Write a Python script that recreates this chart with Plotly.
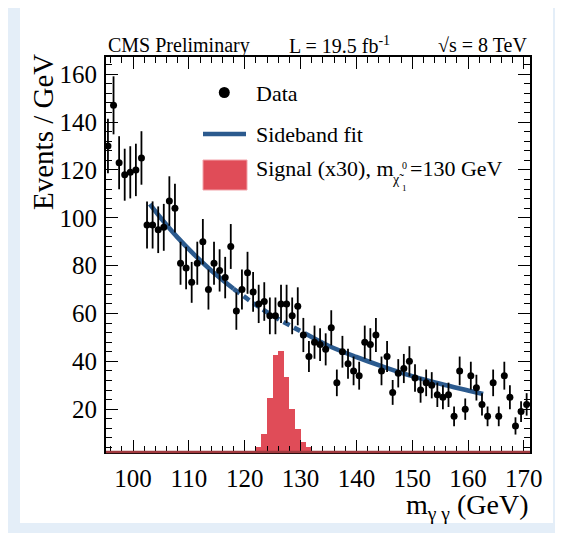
import numpy as np
import plotly.graph_objects as go

# ---------------- data ----------------
# observed events per 1 GeV bin (bin centres 95.5 ... 170.5)
bin_centres = [95.5 + i for i in range(76)]
data_counts = [130, 147, 123, 118, 119, 120, 125, 97, 97, 95,
               96, 107, 104, 81, 79, 73, 81, 90, 70, 81,
               78, 75, 88, 61, 70, 77, 69, 64, 65, 59,
               59, 64, 64, 59, 63, 51, 42, 48, 47, 45,
               54, 31, 44, 39, 36, 34, 48, 47, 51, 36,
               42, 27, 35, 37, 40, 33, 28, 31, 30, 26,
               25, 26, 17, 36, 20, 34, 29, 22, 17, 31,
               17, 34, 25, 13, 19, 22]
data_err = np.sqrt(np.array(data_counts, dtype=float))

# sideband fit curve
fit_x = [103, 105, 108, 111, 114, 118, 122, 126, 131, 135, 140, 145, 150, 155, 160, 162.7]
fit_y = [105.7, 99.8, 91.7, 84.5, 78.0, 70.3, 63.6, 57.7, 51.4, 46.5, 41.8, 37.6, 33.8, 30.6, 27.8, 26.3]

# signal histogram (x30), 1 GeV bins
sig_centres = [122.5, 123.5, 124.5, 125.5, 126.5, 127.5, 128.5, 129.5, 130.5, 131.5]
sig_values = [4.0, 9.6, 24.6, 42.5, 44.3, 33.5, 20.0, 11.7, 6.4, 4.0]

x_ticks = [100, 110, 120, 130, 140, 150, 160, 170]
y_ticks = [20, 40, 60, 80, 100, 120, 140, 160]

# ---------------- style ----------------
W, H = 563, 533
OFF = 8                      # page body margin
L, R, T, B = 106, 530, 57, 452   # plot frame in page pixels
FONT = "Liberation Serif"
BLUE = "#2b5a8e"
RED = "#e04c58"
RED_EDGE = "#f2a3aa"


def PX(x):
    return (x - L) / (R - L)


def PY(y):
    return (B - y) / (B - T)


fig = go.Figure()

# signal histogram
fig.add_trace(go.Bar(
    x=sig_centres, y=sig_values, width=1.0,
    marker=dict(color=RED, line=dict(width=0)),
    showlegend=False,
))

# sideband fit: solid / dashed (signal region) / solid
seg = [(0, 6, "solid"), (5, 9, "7px,5px"), (8, len(fit_x), "solid")]
for a, b, d in seg:
    fig.add_trace(go.Scatter(
        x=fit_x[a:b], y=fit_y[a:b], mode="lines",
        line=dict(color=BLUE, width=4.6, dash=d, shape="spline"),
        showlegend=False, hoverinfo="skip",
    ))

# data points
fig.add_trace(go.Scatter(
    x=bin_centres, y=data_counts, mode="markers",
    marker=dict(color="black", size=7),
    error_y=dict(type="data", array=data_err, visible=True,
                 color="black", thickness=1.8, width=0),
    showlegend=False,
))

axis_common = dict(
    showgrid=False, zeroline=False,
    showline=True, linecolor="black", linewidth=2, mirror="ticks",
    ticks="inside", ticklen=12, tickwidth=1.2, tickcolor="black",
    tickfont=dict(family=FONT, size=25, color="black"),
)

fig.update_xaxes(
    range=[95.15, 171.1], tickvals=x_ticks,
    minor=dict(ticks="inside", ticklen=6, dtick=2, tick0=0, tickcolor="black", tickwidth=1.2),
    ticklabelstandoff=3,
    **axis_common,
)
fig.update_yaxes(
    range=[2.1, 167.2], tickvals=y_ticks,
    minor=dict(ticks="inside", ticklen=6, dtick=4, tick0=0, tickcolor="black", tickwidth=1.2),
    ticklabelstandoff=2,
    **axis_common,
)

shapes = []
# page background frame
shapes.append(dict(type="rect", xref="paper", yref="paper",
                   x0=PX(20), x1=PX(553), y0=PY(523), y1=PY(0),
                   fillcolor="white", line=dict(width=0), layer="below"))
# red bottom line of the signal histogram
shapes.append(dict(type="line", xref="paper", yref="paper",
                   x0=0, x1=1, y0=0, y1=0,
                   line=dict(color="#a13a3f", width=2.5), layer="above"))
# legend symbols
shapes.append(dict(type="circle", xref="paper", yref="paper",
                   x0=PX(218.8), x1=PX(229.8), y0=PY(98), y1=PY(87),
                   fillcolor="black", line=dict(width=0)))
shapes.append(dict(type="line", xref="paper", yref="paper",
                   x0=PX(203), x1=PX(246), y0=PY(134), y1=PY(134),
                   line=dict(color=BLUE, width=4.7)))
shapes.append(dict(type="rect", xref="paper", yref="paper",
                   x0=PX(203), x1=PX(247), y0=PY(190), y1=PY(160),
                   fillcolor=RED, line=dict(color=RED_EDGE, width=1)))

ann = []


def text(s, x, y, size, xanchor="left", yanchor="middle", angle=0):
    ann.append(dict(text=s, x=PX(x), y=PY(y), xref="paper", yref="paper",
                    xanchor=xanchor, yanchor=yanchor, showarrow=False,
                    textangle=angle,
                    font=dict(family=FONT, size=size, color="black")))


# header
text("CMS Preliminary", 106, 45, 20)
text("L = 19.5 fb<sup>-1</sup>", 287, 45, 20)
text("√s = 8 TeV", 529, 45, 20, xanchor="right")
# legend texts
text("Data", 254, 93, 22)
text("Sideband fit", 254, 134, 22)
text("Signal (x30), m", 254, 168, 22)
text("χ̃", 398, 179, 14, xanchor="center")
text("0", 404, 165, 10, xanchor="center")
text("1", 404, 188, 9, xanchor="center")
text("=130 GeV", 408, 168, 22)
# axis titles
text("m<sub>γ γ</sub> (GeV)", 531, 506, 28, xanchor="right")
text("Events / GeV", 43, 132, 29, xanchor="center", angle=-90)

fig.update_layout(
    width=W, height=H,
    margin=dict(l=L - OFF, r=W - (R - OFF), t=T - OFF, b=H - (B - OFF), pad=0),
    paper_bgcolor="#e4eef8", plot_bgcolor="white",
    bargap=0, showlegend=False,
    shapes=shapes, annotations=ann,
)

fig.write_html("out.html")
